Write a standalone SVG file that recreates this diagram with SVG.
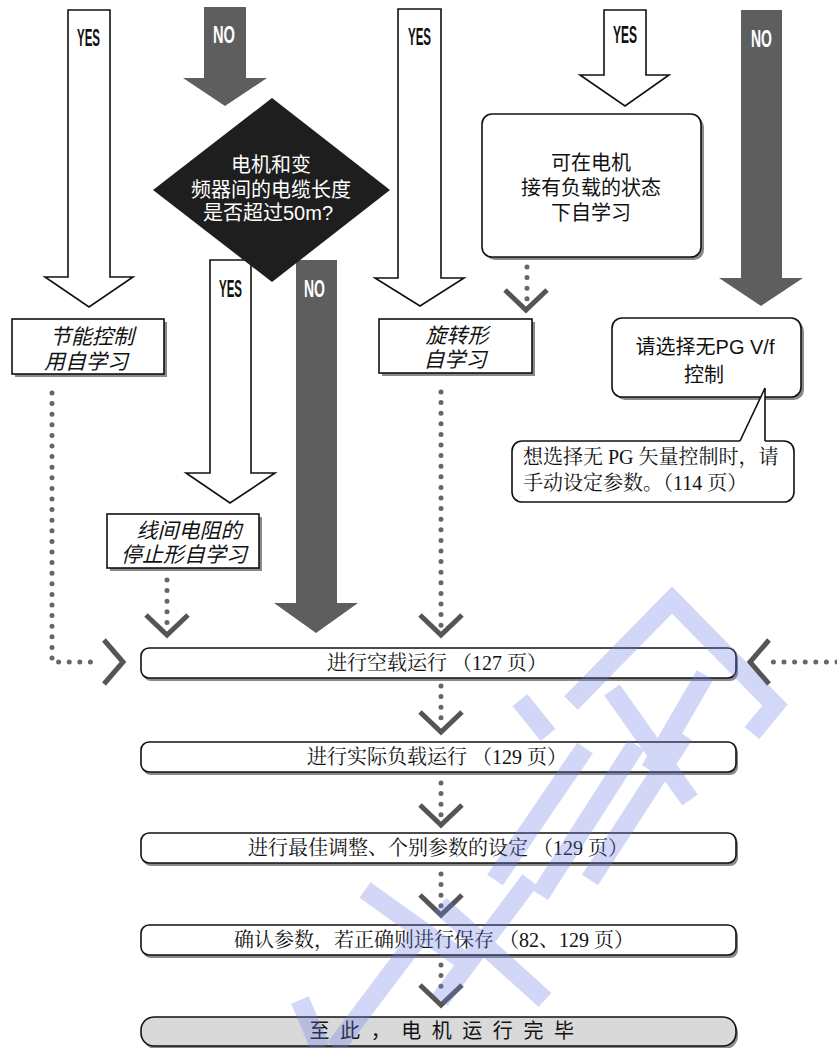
<svg xmlns="http://www.w3.org/2000/svg" width="837" height="1048" viewBox="0 0 837 1048">
<defs>
<style>
.wa{fill:#fff;stroke:#111;stroke-width:1.6;stroke-linejoin:miter}
.ga{fill:#5e5e5e;stroke:none}
.dot{fill:none;stroke:#666;stroke-width:5;stroke-linecap:round;stroke-dasharray:0 10.6}
.chev{fill:none;stroke:#555;stroke-width:5;stroke-linecap:butt;stroke-linejoin:miter}
.box{fill:#fff;stroke:#111;stroke-width:1.6}
.shadow{fill:#8a8a8a}
.lbl{font-family:"Liberation Sans",Arial,sans-serif;font-size:24px;font-weight:bold;fill:#111}
.lblw{font-family:"Liberation Sans",Arial,sans-serif;font-size:24px;font-weight:bold;fill:#fff}
.g{font-family:"Liberation Sans","Noto Sans CJK SC",sans-serif;font-size:20px;fill:#111}
.gw{font-family:"Liberation Sans","Noto Sans CJK SC",sans-serif;font-size:20px;fill:#fff}
.it{font-family:"Liberation Sans","Noto Sans CJK SC",sans-serif;font-size:21px;font-style:italic;fill:#111}
.s{font-family:"Liberation Serif","Noto Serif CJK SC","Noto Sans CJK SC",serif;font-size:20px;fill:#111}
.mid{text-anchor:middle}
.wm{fill:none;stroke:rgb(110,125,235);stroke-width:19;stroke-linecap:butt;stroke-linejoin:miter}
</style>
</defs>
<rect width="837" height="1048" fill="#fff"/>

<g id="connectors">
  <path class="wa" d="M68,10 H110 V277 H133 L89,307 L45,277 H68 Z"/>
  <text class="lbl" x="77" y="46" textLength="23" lengthAdjust="spacingAndGlyphs">YES</text>
  <path class="ga" d="M204,7 H246 V78 H267 L225,106 L183,78 H204 Z"/>
  <text class="lblw" x="213" y="43" textLength="22" lengthAdjust="spacingAndGlyphs">NO</text>
  <path class="wa" d="M398,9 H441 V278 H464 L420,306 L375,278 H398 Z"/>
  <text class="lbl" x="408" y="45" textLength="23" lengthAdjust="spacingAndGlyphs">YES</text>
  <path class="wa" d="M604,10 H646 V75 H669 L625,106 L580,75 H604 Z"/>
  <text class="lbl" x="613" y="43" textLength="24" lengthAdjust="spacingAndGlyphs">YES</text>
  <path class="ga" d="M741,10 H782 V278 H803 L761,306 L719,278 H741 Z"/>
  <text class="lblw" x="751" y="47" textLength="21" lengthAdjust="spacingAndGlyphs">NO</text>
  <path class="wa" d="M210,260 H251 V473 H275 L230,503 L186,473 H210 Z"/>
  <text class="lbl" x="219" y="297" textLength="23" lengthAdjust="spacingAndGlyphs">YES</text>
  <path class="ga" d="M296,260 H337 V603 H358 L316,633 L274,603 H296 Z"/>
  <text class="lblw" x="304" y="297" textLength="21" lengthAdjust="spacingAndGlyphs">NO</text>

  <path class="dot" d="M52,393 V662 H100"/>
  <polyline class="chev" points="104,640 123,662 104,684"/>
  <path class="dot" d="M837,662 H772"/>
  <polyline class="chev" points="769,640 750,662 769,684"/>
  <path class="dot" d="M167,580 V626"/>
  <polyline class="chev" points="146,615 167,635 188,615"/>
  <path class="dot" d="M441,392 V626"/>
  <polyline class="chev" points="420,615 441,635 462,615"/>
  <path class="dot" d="M527,267 V301"/>
  <polyline class="chev" points="505,290 526,310 547,290"/>
  <path class="dot" d="M441,686 V723"/>
  <polyline class="chev" points="420,712 441,732 462,712"/>
  <path class="dot" d="M441,783 V816"/>
  <polyline class="chev" points="420,805 441,825 462,805"/>
  <path class="dot" d="M441,874 V906"/>
  <polyline class="chev" points="420,895 441,915 462,895"/>
  <path class="dot" d="M441,965 V996"/>
  <polyline class="chev" points="420,985 441,1005 462,985"/>
</g>

<g id="decision">
  <polygon points="272,98 390,190 272,282 153,190" fill="#1e1e1e"/>
  <text class="gw mid"><tspan x="271" y="172">电机和变</tspan><tspan x="271" y="197">频器间的电缆长度</tspan><tspan x="268" y="220">是否超过50m?</tspan></text>
</g>

<g id="load-tuning">
  <rect class="shadow" x="485" y="117" width="219" height="143" rx="10"/>
  <rect class="box" x="482" y="114" width="219" height="143" rx="10"/>
  <text class="g mid"><tspan x="591" y="170">可在电机</tspan><tspan x="591" y="195">接有负载的状态</tspan><tspan x="591" y="220">下自学习</tspan></text>
</g>

<g id="energy-tuning">
  <rect class="shadow" x="15" y="322" width="152" height="55"/>
  <rect class="box" x="12" y="319" width="152" height="55"/>
  <text class="it mid"><tspan x="92" y="344">节能控制</tspan><tspan x="86" y="369">用自学习</tspan></text>
</g>

<g id="stationary-tuning">
  <rect class="shadow" x="110" y="517" width="152" height="54"/>
  <rect class="box" x="107" y="514" width="152" height="54"/>
  <text class="it mid"><tspan x="189" y="538">线间电阻的</tspan><tspan x="184" y="562">停止形自学习</tspan></text>
</g>

<g id="rotational-tuning">
  <rect class="shadow" x="382" y="322" width="153" height="54"/>
  <rect class="box" x="379" y="319" width="153" height="54"/>
  <text class="it mid"><tspan x="457" y="343">旋转形</tspan><tspan x="455" y="367">自学习</tspan></text>
</g>

<g id="vf-select">
  <rect class="shadow" x="615" y="321" width="189" height="79" rx="10"/>
  <rect class="box" x="612" y="318" width="189" height="79" rx="10"/>
  <text class="g mid"><tspan x="705" y="354">请选择无PG V/f</tspan><tspan x="704" y="382">控制</tspan></text>
</g>

<g id="note">
  <rect class="box" x="512" y="441" width="282" height="61" rx="10"/>
  <polygon points="739,443 765,388 765,443" fill="#fff"/>
  <polyline points="740,441 765,388 765,441" fill="none" stroke="#111" stroke-width="1.6"/>
  <text class="s"><tspan x="523" y="464">想选择无 PG 矢量控制时，请</tspan><tspan x="523" y="490">手动设定参数。（114 页）</tspan></text>
</g>

<g id="step1">
  <rect class="shadow" x="143" y="651" width="595" height="30" rx="8"/>
  <rect class="box" x="141" y="648" width="595" height="30" rx="8"/>
  <text class="s mid" x="437" y="670">进行空载运行 （127 页）</text>
</g>
<g id="step2">
  <rect class="shadow" x="143" y="745" width="595" height="30" rx="8"/>
  <rect class="box" x="141" y="742" width="595" height="30" rx="8"/>
  <text class="s mid" x="437" y="764">进行实际负载运行 （129 页）</text>
</g>
<g id="step3">
  <rect class="shadow" x="143" y="836" width="595" height="30" rx="8"/>
  <rect class="box" x="141" y="833" width="595" height="30" rx="8"/>
  <text class="s mid" x="438" y="855">进行最佳调整、个别参数的设定 （129 页）</text>
</g>
<g id="step4">
  <rect class="shadow" x="143" y="928" width="595" height="30" rx="8"/>
  <rect class="box" x="141" y="925" width="595" height="30" rx="8"/>
  <text class="s mid" x="434" y="947">确认参数，若正确则进行保存 （82、129 页）</text>
</g>
<g id="end">
  <rect class="shadow" x="143" y="1020" width="595" height="29" rx="13"/>
  <rect x="141" y="1017" width="595" height="29" rx="13" fill="#d9d9d9" stroke="#111" stroke-width="1.6"/>
  <text class="g mid" x="443" y="1038" letter-spacing="2.5">至 此 ， 电 机 运 行 完 毕</text>
</g>

<g id="watermark" opacity="0.3">
  <polyline class="wm" points="571,703 672,600 775,705 752,733"/>
  <line class="wm" x1="612" y1="690" x2="690" y2="800"/>
  <line class="wm" x1="705" y1="675" x2="650" y2="770"/>
  <line class="wm" x1="684" y1="735" x2="590" y2="880"/>
  <line class="wm" x1="636" y1="745" x2="540" y2="895"/>
  <line class="wm" x1="585" y1="748" x2="495" y2="880"/>
  <line class="wm" x1="520" y1="700" x2="548" y2="735"/>
  <line class="wm" x1="530" y1="880" x2="440" y2="1000"/>
  <line class="wm" x1="440" y1="905" x2="545" y2="1000"/>
  <line class="wm" x1="420" y1="935" x2="335" y2="1048"/>
  <line class="wm" x1="365" y1="890" x2="470" y2="965"/>
  <line class="wm" x1="300" y1="1000" x2="320" y2="1048"/>
</g>
</svg>
